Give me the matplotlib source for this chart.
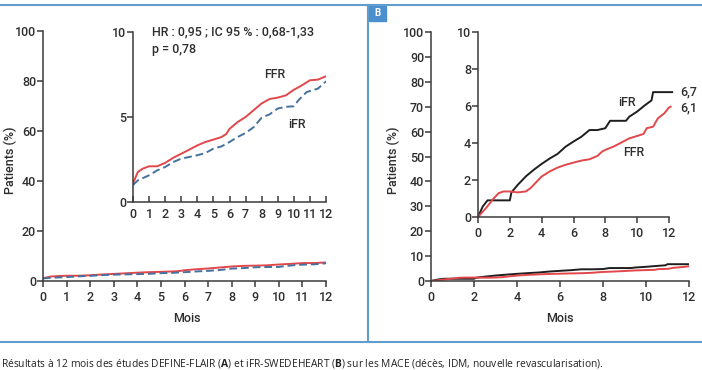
import matplotlib
matplotlib.use('Agg')
import matplotlib.pyplot as plt
from matplotlib.patches import Rectangle
from matplotlib.lines import Line2D

# DEFINE-FLAIR (A) : incidence cumulee MACE (%)
a_months_ffr = [0, 0.3, 0.6, 1, 1.5, 2, 2.5, 3, 3.5, 4, 4.5, 5, 5.5, 5.8, 6, 6.5, 7, 7.5, 8,
                8.5, 9, 9.5, 9.8, 10, 10.5, 11, 11.5, 12]
a_ffr = [1.1, 1.76, 1.96, 2.1, 2.1, 2.3, 2.6, 2.84, 3.08, 3.33, 3.53, 3.67, 3.82, 4.0, 4.3, 4.7,
         5.0, 5.4, 5.8, 6.06, 6.14, 6.27, 6.47, 6.6, 6.86, 7.16, 7.2, 7.4]
a_months_ifr = [0, 0.3, 1, 1.5, 2, 2.5, 3, 3.5, 4, 4.5, 5, 5.5, 6, 6.5, 7, 7.5, 8, 8.5, 9, 9.5,
                10, 10.3, 10.8, 11.5, 12]
a_ifr = [1.0, 1.27, 1.57, 1.86, 2.06, 2.35, 2.55, 2.65, 2.75, 2.88, 3.14, 3.27, 3.53, 3.82, 4.06,
         4.4, 4.96, 5.16, 5.5, 5.6, 5.63, 6.0, 6.47, 6.67, 7.1]

# iFR-SWEDEHEART (B)
b_months_ifr = [0, 0.3, 0.6, 2, 2.1, 2.5, 3, 3.5, 4, 4.5, 5, 5.5, 6, 6.5, 7, 7.5, 8, 8.3, 9,
                9.3, 9.5, 10, 10.5, 10.9, 11, 12.2]
b_ifr = [0, 0.57, 0.9, 0.9, 1.33, 1.74, 2.19, 2.55, 2.87, 3.16, 3.41, 3.8, 4.08, 4.34, 4.7, 4.7,
         4.8, 5.2, 5.2, 5.2, 5.42, 5.7, 6.05, 6.3, 6.75, 6.75]
b_months_ffr = [0, 0.5, 1, 1.3, 1.6, 2, 2.5, 3, 3.3, 3.7, 4, 4.5, 5, 5.5, 6, 6.5, 7, 7.5, 7.8,
                8, 8.5, 9, 9.5, 10, 10.4, 10.6, 11, 11.3, 11.7, 12, 12.1]
b_ffr = [0, 0.48, 1.02, 1.29, 1.38, 1.38, 1.33, 1.38, 1.56, 1.92, 2.19, 2.46, 2.67, 2.82, 2.94,
         3.05, 3.12, 3.3, 3.54, 3.63, 3.8, 4.02, 4.25, 4.38, 4.49, 4.8, 4.88, 5.33, 5.6, 5.92, 5.96]

a_main_yticks = [0, 20, 40, 60, 80, 100]
a_inset_yticks = [0, 5, 10]
a_xticks = list(range(13))
b_main_yticks = list(range(0, 101, 10))
b_inset_yticks = [0, 2, 4, 6, 8, 10]
b_xticks = list(range(0, 13, 2))

hr_text = 'HR : 0,95 ; IC 95 % : 0,68-1,33'
p_text = 'p = 0,78'

W, H = 702, 370
RED = '#e2474b'
BLUE = '#44719f'
BLACK = '#1e1e1e'
FRAME = '#5e9dcc'
AXC = '#3a3a3a'
TXT = '#2e2e2e'
FS = 9

plt.rcParams['font.family'] = ['Roboto', 'DejaVu Sans']
plt.rcParams['font.weight'] = 500
plt.rcParams['font.size'] = FS
plt.rcParams['mathtext.fontset'] = 'custom'
plt.rcParams['mathtext.bf'] = 'Open Sans:bold'
plt.rcParams['mathtext.rm'] = 'Open Sans'

fig = plt.figure(figsize=(W / 100, H / 100), dpi=100)


def px_axes(x0, y_top, x1, y_bot):
    return fig.add_axes([x0 / W, 1 - y_bot / H, (x1 - x0) / W, (y_bot - y_top) / H])


def px(x, y):
    return x / W, 1 - y / H


def style(ax, xticks, yticks, ymax, xdir='out'):
    for s in ['top', 'right']:
        ax.spines[s].set_visible(False)
    for s in ['left', 'bottom']:
        ax.spines[s].set_color(AXC)
        ax.spines[s].set_linewidth(1.1)
    ax.set_xlim(0, 12)
    ax.set_ylim(0, ymax)
    ax.set_xticks(xticks)
    ax.set_yticks(yticks)
    ax.patch.set_alpha(0)
    ax.tick_params(axis='y', direction='out', length=4, width=1.1, color=AXC, labelcolor=TXT,
                   labelsize=FS, pad=1)
    ax.tick_params(axis='x', direction=xdir, length=4, width=1.1, color=AXC, labelcolor=TXT,
                   labelsize=FS, pad=3)


# ---- panel A ----
axA = px_axes(43, 31, 326, 281)
axA.plot(a_months_ffr, a_ffr, color=RED, lw=1.4)
axA.plot(a_months_ifr, a_ifr, color=BLUE, lw=1.4, ls=(0, (4, 2)))
style(axA, a_xticks, a_main_yticks, 100)

axAi = px_axes(133, 32, 326, 202)
axAi.plot(a_months_ffr, a_ffr, color=RED, lw=1.4)
axAi.plot(a_months_ifr, a_ifr, color=BLUE, lw=1.4, ls=(0, (4, 2)))
style(axAi, a_xticks, a_inset_yticks, 10, xdir='in')
axAi.tick_params(axis='x', pad=4)

fig.text(*px(152, 32), hr_text, color=TXT, va='center')
fig.text(*px(152, 50), p_text, color=TXT, va='center')
fig.text(*px(275, 75), 'FFR', color=TXT, ha='center', va='center')
fig.text(*px(297, 125), 'iFR', color=TXT, ha='center', va='center')
fig.text(*px(10, 160), 'Patients (%)', color=TXT, ha='center', va='center', rotation=90)
fig.text(*px(187, 318), 'Mois', color=TXT, ha='center', va='center')

# ---- panel B ----
axB = px_axes(431, 32, 689, 281)
axB.plot(b_months_ifr, b_ifr, color=BLACK, lw=1.4)
axB.plot(b_months_ffr, b_ffr, color=RED, lw=1.4)
style(axB, b_xticks, b_main_yticks, 100)

axBi = px_axes(478, 32, 669, 217)
axBi.plot(b_months_ifr, b_ifr, color=BLACK, lw=1.4, clip_on=False)
axBi.plot(b_months_ffr, b_ffr, color=RED, lw=1.4, clip_on=False)
style(axBi, b_xticks, b_inset_yticks, 10)

fig.text(*px(627, 102), 'iFR', color=TXT, ha='center', va='center')
fig.text(*px(634, 153), 'FFR', color=TXT, ha='center', va='center')
fig.text(*px(680, 92), '6,7', color=TXT, va='center')
fig.text(*px(680, 108), '6,1', color=TXT, va='center')
fig.text(*px(393, 160), 'Patients (%)', color=TXT, ha='center', va='center', rotation=90)
fig.text(*px(560, 318), 'Mois', color=TXT, ha='center', va='center')

# ---- frames ----
for xs, ys in [([0, W], [5, 5]), ([0, W], [342, 342]), ([368, 368], [5, 342])]:
    fig.add_artist(Line2D([x / W for x in xs], [1 - y / H for y in ys], color=FRAME, lw=1.5))
fig.add_artist(Rectangle(px(369, 21), 17 / W, 15 / H, color='#4b8fcf', transform=fig.transFigure))
fig.text(*px(377.5, 13.5), 'B', fontsize=7, color='white', weight='bold', ha='center',
         va='center')

fig.text(*px(1, 363), 'Résultats à 12 mois des études DEFINE-FLAIR ($\\bf{A}$) et iFR-SWEDEHEART '
         '($\\bf{B}$) sur les MACE (décès, IDM, nouvelle revascularisation).',
         fontsize=7.4, weight='normal', color='#222222', va='center',
         family=['Open Sans', 'DejaVu Sans'])

fig.savefig('out.png', dpi=100)
